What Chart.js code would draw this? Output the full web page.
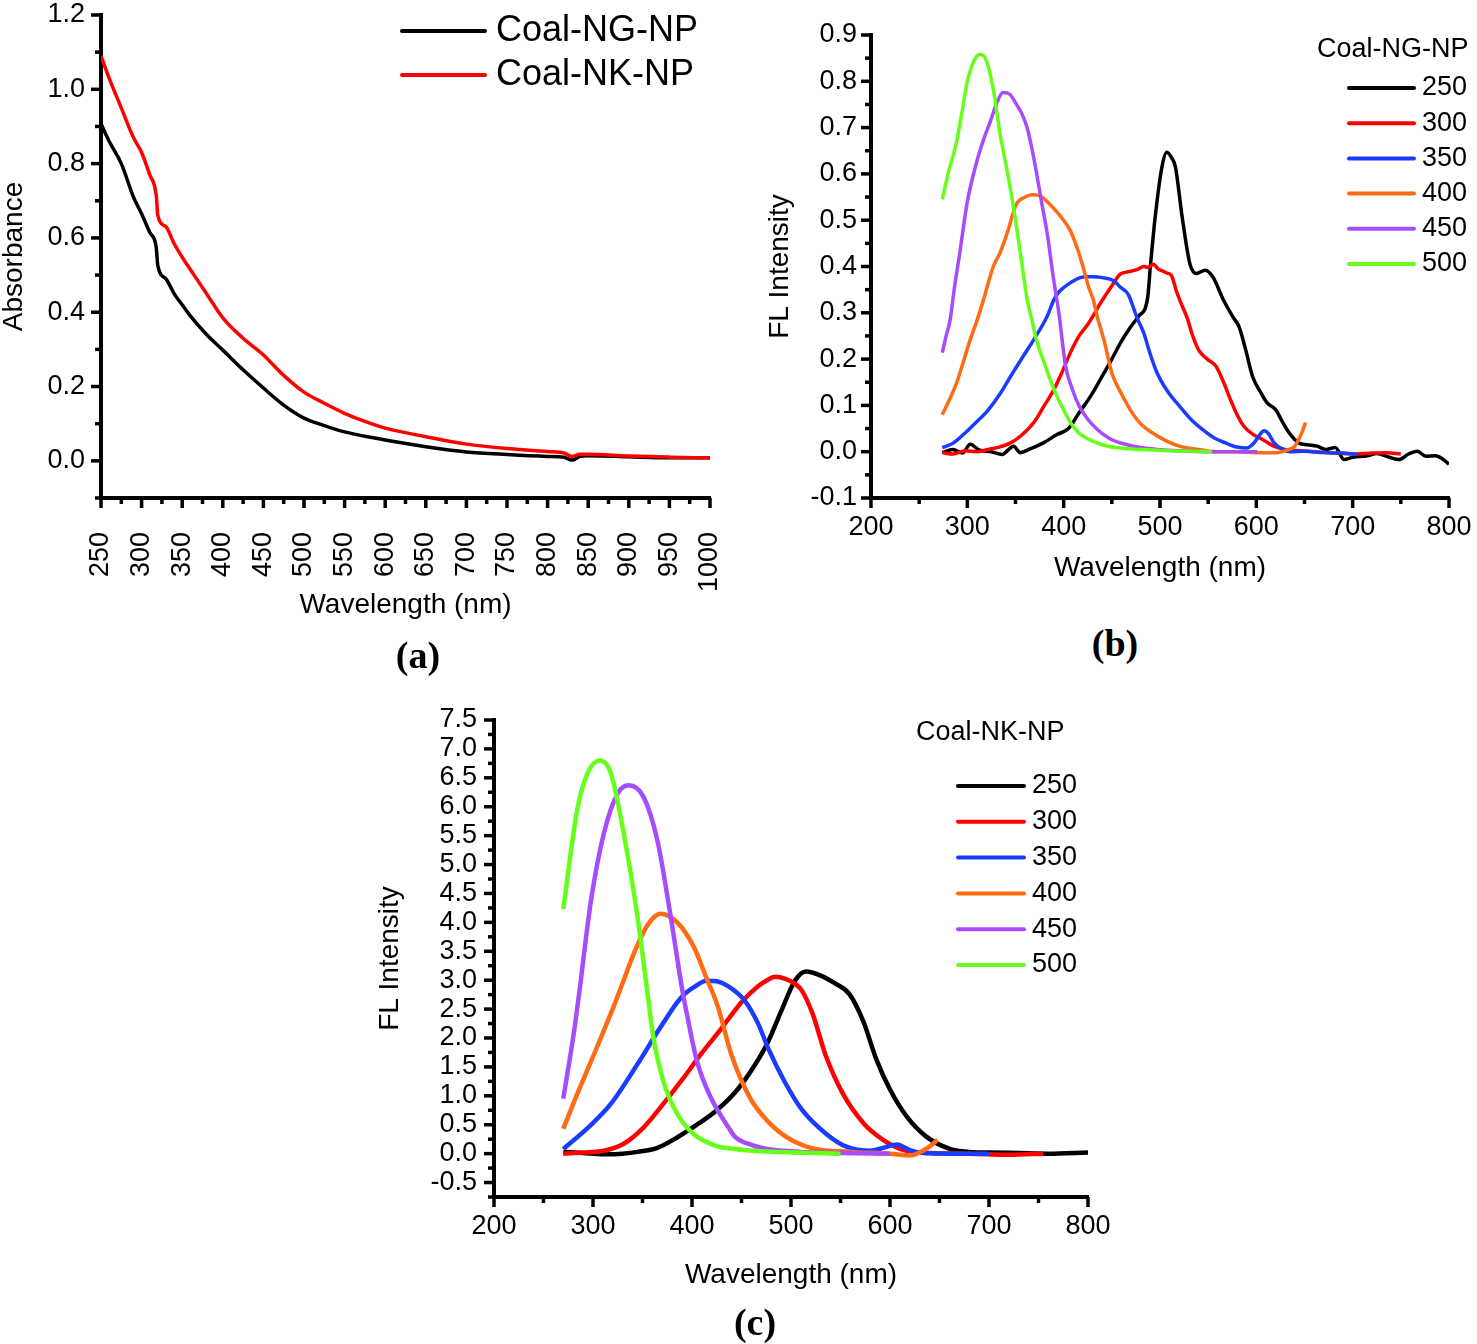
<!DOCTYPE html>
<html>
<head>
<meta charset="utf-8">
<script src="https://cdn.jsdelivr.net/npm/chart.js@4.4.1/dist/chart.umd.min.js"></script>
<style>
  html, body { margin: 0; padding: 0; background: #fff; }
  body { width: 1477px; height: 1344px; position: relative; overflow: hidden; }
  canvas { position: absolute; }
  #chartA { left: 0; top: 0; }
  #chartB { left: 760px; top: 0; }
  #chartC { left: 360px; top: 690px; }
  .tag { position: absolute; font: bold 38px "Liberation Serif", "Times New Roman", serif; transform: translate(-50%, -50%); }
</style>
</head>
<body>
<canvas id="chartA" width="740" height="640"></canvas>
<canvas id="chartB" width="717" height="620"></canvas>
<canvas id="chartC" width="760" height="654"></canvas>
<div class="tag" style="left:418px;top:655px">(a)</div>
<div class="tag" style="left:1115px;top:643px">(b)</div>
<div class="tag" style="left:755px;top:1322px">(c)</div>

<script>
/* ---------- (a) absorbance ---------- */
var absWavelength = [250, 260, 275, 290, 300, 310, 318, 320, 330, 340, 350, 360, 380, 400, 425, 450, 475, 500, 525, 550, 575, 600, 650, 700, 750, 800, 820, 830, 840, 850, 900, 950, 1000];
var absNG = [0.907, 0.86, 0.80, 0.71, 0.665, 0.615, 0.575, 0.525, 0.49, 0.45, 0.42, 0.39, 0.34, 0.298, 0.245, 0.196, 0.15, 0.115, 0.095, 0.078, 0.066, 0.056, 0.038, 0.024, 0.017, 0.012, 0.010, 0.002, 0.012, 0.014, 0.011, 0.008, 0.008];
var absNK = [1.09, 1.03, 0.95, 0.87, 0.83, 0.77, 0.715, 0.66, 0.63, 0.585, 0.548, 0.515, 0.45, 0.385, 0.33, 0.285, 0.23, 0.185, 0.155, 0.128, 0.106, 0.088, 0.065, 0.045, 0.033, 0.025, 0.021, 0.012, 0.018, 0.018, 0.013, 0.010, 0.008];
var absSeries = ["Coal-NG-NP", "Coal-NK-NP"];

var ticksAX = [250, 300, 350, 400, 450, 500, 550, 600, 650, 700, 750, 800, 850, 900, 950, 1000];
var ticksAY = [0.0, 0.2, 0.4, 0.6, 0.8, 1.0, 1.2];

/* ---------- (b) FL Coal-NG-NP ---------- */
var ng250x = [274, 285, 295, 303, 312, 325, 336, 348, 355, 365, 379, 393, 405, 416, 428, 440, 450, 459, 468, 478, 487, 490, 495, 502, 507, 512, 516, 523, 531, 538, 547, 555, 566, 576, 582, 589, 596, 604, 611, 620, 627, 634, 644, 653, 663, 672, 682, 691, 700, 715, 725, 738, 748, 758, 767, 776, 786, 793, 800];
var ng250y = [-0.002, 0.005, -0.003, 0.016, 0.004, 0.0, -0.006, 0.012, -0.002, 0.006, 0.019, 0.037, 0.05, 0.084, 0.12, 0.163, 0.2, 0.235, 0.265, 0.293, 0.33, 0.40, 0.507, 0.615, 0.647, 0.635, 0.615, 0.507, 0.406, 0.385, 0.392, 0.377, 0.327, 0.29, 0.27, 0.22, 0.163, 0.13, 0.106, 0.091, 0.065, 0.041, 0.019, 0.015, 0.012, 0.005, 0.009, -0.017, -0.012, -0.009, -0.004, -0.012, -0.017, -0.005, 0.001, -0.01, -0.009, -0.015, -0.027];
var ng300x = [274, 285, 298, 310, 322, 333, 345, 356, 369, 380, 388, 398, 407, 416, 426, 438, 449, 459, 466, 472, 478, 483, 488, 493, 498, 503, 507, 512, 517, 522, 528, 534, 540, 549, 558, 566, 573, 580, 587, 596, 606, 618, 630, 645, 660, 680, 700, 720, 735, 750];
var ng300y = [-0.002, -0.005, 0.002, 0.0, 0.005, 0.01, 0.019, 0.035, 0.063, 0.1, 0.127, 0.17, 0.214, 0.25, 0.278, 0.32, 0.355, 0.384, 0.388, 0.391, 0.395, 0.40, 0.398, 0.405, 0.395, 0.39, 0.386, 0.38, 0.347, 0.32, 0.29, 0.25, 0.22, 0.2, 0.185, 0.15, 0.113, 0.08, 0.055, 0.038, 0.027, 0.012, 0.005, 0.002, 0.0, -0.003, -0.005, -0.003, -0.002, -0.005];
var ng350x = [274, 285, 298, 310, 322, 334, 345, 357, 369, 383, 390, 396, 405, 417, 425, 431, 440, 452, 459, 467, 476, 483, 490, 497, 508, 520, 532, 544, 556, 568, 580, 590, 598, 603, 608, 613, 618, 625, 635, 650, 670, 690, 705];
var ng350y = [0.009, 0.018, 0.041, 0.065, 0.091, 0.125, 0.163, 0.203, 0.242, 0.293, 0.329, 0.347, 0.362, 0.376, 0.378, 0.378, 0.376, 0.369, 0.355, 0.34, 0.29, 0.257, 0.21, 0.17, 0.13, 0.099, 0.07, 0.048, 0.03, 0.019, 0.01, 0.008, 0.02, 0.035, 0.045, 0.038, 0.02, 0.008, 0.0, 0.001, -0.002, -0.003, -0.006];
var ng400x = [274, 282, 289, 296, 303, 310, 317, 327, 334, 341, 351, 360, 367, 375, 383, 389, 398, 407, 414, 420, 426, 431, 435, 442, 450, 460, 469, 480, 492, 505, 520, 540, 558, 580, 600, 620, 634, 640, 644, 648, 651];
var ng400y = [0.08, 0.115, 0.149, 0.195, 0.242, 0.283, 0.33, 0.40, 0.43, 0.47, 0.535, 0.55, 0.555, 0.553, 0.54, 0.527, 0.505, 0.477, 0.44, 0.40, 0.355, 0.326, 0.29, 0.24, 0.17, 0.125, 0.091, 0.06, 0.041, 0.025, 0.012, 0.005, 0.0, 0.0, -0.002, -0.002, 0.005, 0.012, 0.027, 0.045, 0.063];
var ng450x = [274, 278, 282, 287, 292, 300, 310, 317, 324, 330, 337, 344, 351, 357, 362, 367, 372, 377, 383, 389, 395, 402, 409, 416, 425, 435, 448, 464, 480, 497, 520, 550, 580, 601];
var ng450y = [0.214, 0.25, 0.283, 0.36, 0.427, 0.54, 0.628, 0.675, 0.714, 0.75, 0.776, 0.772, 0.75, 0.728, 0.70, 0.655, 0.6, 0.54, 0.47, 0.38, 0.30, 0.185, 0.135, 0.099, 0.07, 0.048, 0.028, 0.016, 0.009, 0.005, 0.002, 0.0, 0.0, 0.0];
var ng500x = [274, 280, 289, 295, 300, 305, 310, 313, 317, 322, 328, 334, 341, 348, 355, 362, 367, 372, 381, 387, 393, 400, 407, 416, 426, 440, 454, 470, 487, 510, 530, 554];
var ng500y = [0.545, 0.6, 0.671, 0.74, 0.80, 0.835, 0.855, 0.858, 0.855, 0.83, 0.77, 0.686, 0.61, 0.527, 0.43, 0.33, 0.284, 0.24, 0.185, 0.15, 0.12, 0.09, 0.063, 0.04, 0.027, 0.015, 0.009, 0.006, 0.004, 0.002, 0.001, 0.0];

/* ---------- (c) FL Coal-NK-NP ---------- */
var nk250x = [270, 290, 311, 330, 345, 365, 385, 405, 425, 446, 463, 477, 490, 504, 515, 530, 545, 559, 573, 586, 600, 617, 637, 661, 680, 700, 730, 760, 800];
var nk250y = [0.03, 0.01, -0.01, 0.0, 0.03, 0.1, 0.28, 0.5, 0.75, 1.11, 1.52, 1.94, 2.46, 2.99, 3.15, 3.08, 2.94, 2.76, 2.29, 1.64, 1.11, 0.64, 0.29, 0.08, 0.03, 0.02, 0.01, 0.0, 0.02];
var nk300x = [270, 290, 311, 331, 351, 371, 391, 409, 429, 439, 450, 467, 475, 484, 495, 503, 511, 522, 535, 552, 573, 593, 614, 640, 680, 720, 755];
var nk300y = [0.0, 0.02, 0.05, 0.17, 0.45, 0.86, 1.3, 1.72, 2.15, 2.38, 2.62, 2.9, 2.99, 3.06, 3.02, 2.95, 2.82, 2.41, 1.70, 1.05, 0.53, 0.24, 0.06, 0.01, 0.0, -0.02, 0.0];
var nk350x = [270, 295, 318, 345, 368, 389, 402, 415, 425, 436, 453, 467, 477, 494, 511, 535, 556, 580, 593, 607, 620, 634, 660, 700];
var nk350y = [0.08, 0.45, 0.86, 1.55, 2.18, 2.70, 2.88, 2.99, 2.98, 2.9, 2.65, 2.24, 1.82, 1.23, 0.76, 0.35, 0.12, 0.05, 0.1, 0.16, 0.06, 0.01, 0.0, 0.0];
var nk400x = [270, 284, 304, 321, 331, 341, 355, 368, 385, 402, 415, 426, 440, 459, 476, 496, 520, 560, 600, 621, 638, 648];
var nk400y = [0.43, 1.03, 1.84, 2.55, 3.0, 3.45, 3.95, 4.15, 4.0, 3.57, 3.02, 2.55, 1.7, 0.95, 0.57, 0.28, 0.1, 0.03, 0.0, -0.03, 0.1, 0.24];
var nk450x = [270, 281, 286, 298, 311, 325, 336, 351, 365, 378, 390, 395, 405, 419, 437, 443, 460, 476, 510, 550, 600];
var nk450y = [0.95, 2.13, 2.77, 4.38, 5.54, 6.23, 6.37, 6.17, 5.42, 4.15, 2.85, 2.4, 1.6, 0.97, 0.45, 0.3, 0.15, 0.08, 0.03, 0.01, 0.0];
var nk500x = [270, 284, 294.5, 307, 318, 331, 345, 356, 361, 371, 385, 401.6, 425, 443, 470, 500, 550];
var nk500y = [4.23, 5.94, 6.58, 6.8, 6.58, 5.54, 4.09, 2.65, 2.01, 1.26, 0.69, 0.34, 0.13, 0.08, 0.04, 0.02, 0.0];

var excitation = ["250", "300", "350", "400", "450", "500"];
var flColors = ["#000000", "#ff0000", "#1a3cff", "#ff6a13", "#a64cff", "#66ff1a"];

var ticksFLX = [200, 300, 400, 500, 600, 700, 800];
var ticksBY = [-0.1, 0.0, 0.1, 0.2, 0.3, 0.4, 0.5, 0.6, 0.7, 0.8, 0.9];
var ticksCY = [-0.5, 0.0, 0.5, 1.0, 1.5, 2.0, 2.5, 3.0, 3.5, 4.0, 4.5, 5.0, 5.5, 6.0, 6.5, 7.0, 7.5];

/* ---------- helpers ---------- */
var FONT = '"Liberation Sans", Arial, sans-serif';

function pts(xs, ys) {
    return xs.map((x, i) => ({x: x, y: ys[i]}))
}

// midpoints between majors -> minor tick positions
function mids(list) {
    var out = []
    for (var i = 0; i < list.length - 1; i++) out.push(+((list[i] + list[i + 1]) / 2).toFixed(3))
    return out
}

// scale box is fixed by hand, drop the label overhang padding
function fixBox(s, w, h) {
    if (w != null) s.width = w
    if (h != null) s.height = h
    s.paddingLeft = 0
    s.paddingRight = 0
    s.paddingTop = 0
    s.paddingBottom = 0
}

// outward tick marks, major and minor
var tickMarks = {
    id: "tickMarks",
    afterDraw(chart, args, o) {
        var ctx = chart.ctx, area = chart.chartArea
        var sx = chart.scales.x, sy = chart.scales.y
        ctx.save()
        ctx.strokeStyle = "#000"
        ctx.lineWidth = o.width
        function mark(list, len, horiz) {
            list.forEach(v => {
                ctx.beginPath()
                if (horiz) {
                    var p = sx.getPixelForValue(v)
                    ctx.moveTo(p, area.bottom)
                    ctx.lineTo(p, area.bottom + len)
                } else {
                    var q = sy.getPixelForValue(v)
                    ctx.moveTo(area.left, q)
                    ctx.lineTo(area.left - len, q)
                }
                ctx.stroke()
            })
        }
        mark(o.xMajor, o.majorLen, true)
        mark(o.xMinor, o.minorLen, true)
        mark(o.yMajor, o.majorLen, false)
        mark(o.yMinor, o.minorLen, false)
        ctx.restore()
    }
}

// plain legend: line sample + name, optional title
var lineLegend = {
    id: "lineLegend",
    afterDraw(chart, args, o) {
        var ctx = chart.ctx
        ctx.save()
        ctx.font = o.size + "px " + FONT
        ctx.fillStyle = "#000"
        ctx.textBaseline = "middle"
        ctx.textAlign = "left"
        if (o.title) ctx.fillText(o.title, o.titleX, o.titleY)
        chart.data.datasets.forEach((ds, i) => {
            var y = o.y0 + i * o.dy
            ctx.strokeStyle = ds.borderColor
            ctx.lineWidth = o.lineWidth
            ctx.lineCap = "round"
            ctx.beginPath()
            ctx.moveTo(o.x0, y)
            ctx.lineTo(o.x1, y)
            ctx.stroke()
            ctx.fillText(ds.label, o.textX, y)
        })
        ctx.restore()
    }
}

function makeScales(cfg) {
    return {
        x: {
            type: "linear", min: cfg.xMin, max: cfg.xMax,
            afterBuildTicks: s => { s.ticks = cfg.xTicks.map(v => ({value: v})) },
            afterFit: s => fixBox(s, null, cfg.xHeight),
            grid: {display: false, drawTicks: false},
            border: {display: true, color: "#000", width: 4},
            ticks: {
                autoSkip: false, color: "#000", padding: cfg.xPad,
                minRotation: cfg.xRot, maxRotation: cfg.xRot,
                font: {family: FONT, size: 27},
                callback: v => String(v)
            },
            title: {display: true, text: "Wavelength (nm)", color: "#000", padding: 0,
                    font: {family: FONT, size: 28, lineHeight: 1}}
        },
        y: {
            type: "linear", min: cfg.yMin, max: cfg.yMax,
            afterBuildTicks: s => { s.ticks = cfg.yTicks.map(v => ({value: v})) },
            afterFit: s => fixBox(s, cfg.yWidth, null),
            grid: {display: false, drawTicks: false},
            border: {display: true, color: "#000", width: 4},
            ticks: {
                autoSkip: false, color: "#000", padding: cfg.yPad,
                font: {family: FONT, size: 27},
                callback: v => Number(v).toFixed(1)
            },
            title: {display: true, text: cfg.yTitle, color: "#000", padding: 0,
                    font: {family: FONT, size: 28, lineHeight: 1}}
        }
    }
}

function flSets(xs, ys, width) {
    return excitation.map((name, i) => ({
        label: name,
        data: pts(xs[i], ys[i]),
        borderColor: flColors[i],
        borderWidth: width,
        pointRadius: 0,
        fill: false,
        cubicInterpolationMode: "monotone",
        order: excitation.length - i
    }))
}

var common = {
    responsive: false,
    animation: false,
    devicePixelRatio: 1
}

/* ---------- chart (a) ---------- */
new Chart(document.getElementById("chartA"), {
    type: "line",
    data: {
        datasets: [
            {label: absSeries[0], data: pts(absWavelength, absNG), borderColor: "#000000", borderWidth: 3.5,
             pointRadius: 0, cubicInterpolationMode: "monotone", order: 1},
            {label: absSeries[1], data: pts(absWavelength, absNK), borderColor: "#ff0000", borderWidth: 3.5,
             pointRadius: 0, cubicInterpolationMode: "monotone", order: 0}
        ]
    },
    options: Object.assign({}, common, {
        layout: {padding: {left: 0, top: 15, right: 30, bottom: 21}},
        scales: makeScales({
            xMin: 250, xMax: 1000, xTicks: ticksAX, xHeight: 121, xPad: 34, xRot: 90,
            yMin: -0.1, yMax: 1.2, yTicks: ticksAY, yWidth: 101, yPad: 16, yTitle: "Absorbance"
        }),
        plugins: {
            legend: {display: false},
            tooltip: {enabled: false},
            tickMarks: {width: 3.5, majorLen: 10, minorLen: 6,
                        xMajor: ticksAX, xMinor: mids(ticksAX),
                        yMajor: ticksAY, yMinor: [-0.1].concat(mids(ticksAY))},
            lineLegend: {size: 36, x0: 402, x1: 485, textX: 496, y0: 31, dy: 44, lineWidth: 4}
        }
    }),
    plugins: [tickMarks, lineLegend]
})

/* ---------- chart (b) ---------- */
new Chart(document.getElementById("chartB"), {
    type: "line",
    data: {
        datasets: flSets([ng250x, ng300x, ng350x, ng400x, ng450x, ng500x],
                         [ng250y, ng300y, ng350y, ng400y, ng450y, ng500y], 3.5)
    },
    options: Object.assign({}, common, {
        layout: {padding: {left: 6, top: 35, right: 28, bottom: 38}},
        scales: makeScales({
            xMin: 200, xMax: 800, xTicks: ticksFLX, xHeight: 84, xPad: 13, xRot: 0,
            yMin: -0.1, yMax: 0.9, yTicks: ticksBY, yWidth: 105, yPad: 14, yTitle: "FL Intensity"
        }),
        plugins: {
            legend: {display: false},
            tooltip: {enabled: false},
            tickMarks: {width: 3.5, majorLen: 10, minorLen: 6,
                        xMajor: ticksFLX, xMinor: mids(ticksFLX),
                        yMajor: ticksBY, yMinor: mids(ticksBY)},
            lineLegend: {size: 27, title: "Coal-NG-NP", titleX: 557, titleY: 50,
                         x0: 589, x1: 654, textX: 662, y0: 88, dy: 35.2, lineWidth: 4}
        }
    }),
    plugins: [tickMarks, lineLegend]
})

/* ---------- chart (c) ---------- */
new Chart(document.getElementById("chartC"), {
    type: "line",
    data: {
        datasets: flSets([nk250x, nk300x, nk350x, nk400x, nk450x, nk500x],
                         [nk250y, nk300y, nk350y, nk400y, nk450y, nk500y], 4.5)
    },
    options: Object.assign({}, common, {
        layout: {padding: {left: 16, top: 30, right: 32, bottom: 55}},
        scales: makeScales({
            xMin: 200, xMax: 800, xTicks: ticksFLX, xHeight: 92, xPad: 13, xRot: 0,
            yMin: -0.75, yMax: 7.5, yTicks: ticksCY, yWidth: 118, yPad: 17, yTitle: "FL Intensity"
        }),
        plugins: {
            legend: {display: false},
            tooltip: {enabled: false},
            tickMarks: {width: 3.5, majorLen: 10, minorLen: 6,
                        xMajor: ticksFLX, xMinor: mids(ticksFLX),
                        yMajor: ticksCY, yMinor: [-0.75].concat(mids(ticksCY))},
            lineLegend: {size: 27, title: "Coal-NK-NP", titleX: 556, titleY: 43,
                         x0: 598, x1: 664, textX: 672, y0: 96, dy: 35.8, lineWidth: 4}
        }
    }),
    plugins: [tickMarks, lineLegend]
})
</script>
</body>
</html>
